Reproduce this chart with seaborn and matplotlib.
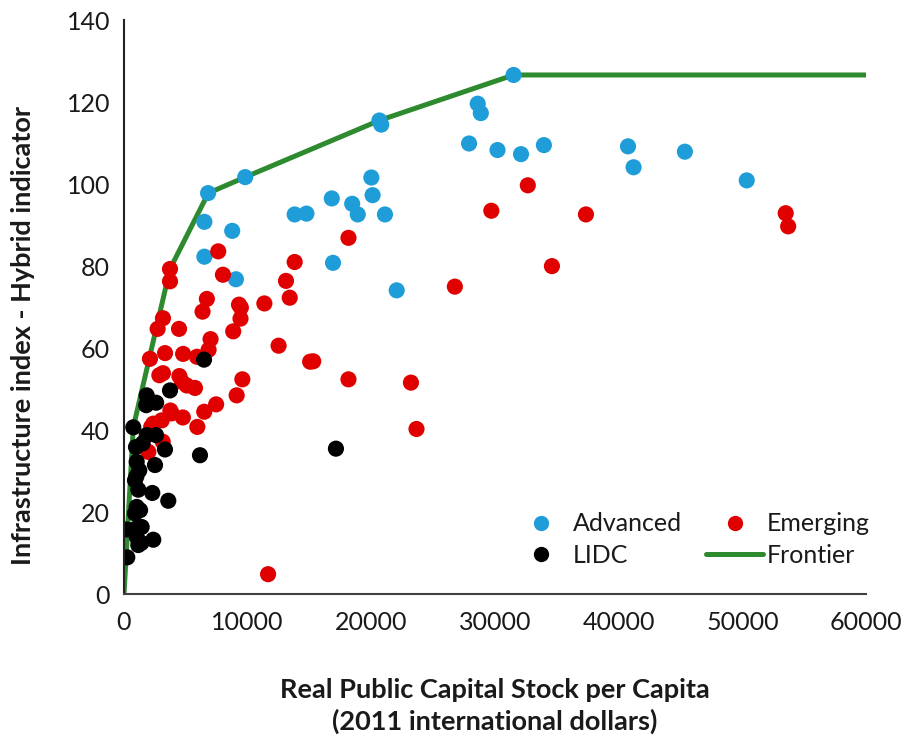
import matplotlib
matplotlib.use("Agg")
import matplotlib.pyplot as plt
from matplotlib.lines import Line2D
import pandas as pd
import seaborn as sns

# Real public capital stock per capita (2011 intl $) and hybrid infrastructure index
adv_x = [31500, 28600, 28850, 20650, 20800, 27900, 30200, 32100, 33950, 40750,
         41200, 45350, 50350, 9800, 6800, 6500, 6500, 8750, 9050, 16800,
         16900, 13800, 14750, 18450, 18900, 20000, 20100, 21100, 22050]
adv_y = [126.6, 119.6, 117.3, 115.5, 114.5, 109.9, 108.3, 107.3, 109.5, 109.2,
         104.1, 107.9, 100.9, 101.7, 97.8, 90.8, 82.3, 88.6, 76.8, 96.5,
         80.8, 92.6, 92.8, 95.2, 92.6, 101.6, 97.3, 92.6, 74.1]

em_x = [32650, 29700, 37350, 53500, 53700, 34600, 26750, 18150, 13800, 13100,
        13400, 11350, 12500, 15050, 15300, 18150, 23200, 23650, 11650,
        7620, 8000, 3720, 3720, 6700, 6350, 9300, 9450, 9420, 8830, 7000,
        6840, 5900, 4450, 2720, 3150, 2100, 3320, 4780,
        2860, 3150, 4480, 4680, 5080, 5740, 9570, 9110, 7450, 6490, 3750,
        3860, 4760, 3050, 2370, 2200, 5930, 3130, 1970]
em_y = [99.7, 93.5, 92.6, 92.9, 89.7, 80.0, 75.0, 86.9, 81.0, 76.4,
        72.3, 70.9, 60.6, 56.7, 56.8, 52.4, 51.6, 40.3, 4.9,
        83.6, 77.9, 79.3, 76.3, 72.0, 68.9, 70.6, 69.9, 67.2, 64.1, 62.2,
        59.6, 57.9, 64.7, 64.7, 67.3, 57.4, 58.8, 58.6,
        53.4, 53.9, 53.2, 51.8, 50.9, 50.3, 52.4, 48.5, 46.3, 44.5, 44.8,
        44.1, 43.1, 42.4, 41.6, 40.8, 40.8, 37.2, 34.7]

lidc_x = [6470, 3720, 1836, 1800, 2600, 752, 1836, 2588, 970, 1512,
          3315, 6145, 17136, 1027, 2507, 1237, 889, 1000, 1156, 2288,
          3582, 1027, 889, 1300, 218, 1431, 950, 1027, 2369, 1156,
          1400, 267]
lidc_y = [57.2, 49.7, 48.5, 46.1, 46.7, 40.7, 38.8, 38.8, 35.9, 36.8,
          35.3, 33.9, 35.5, 32.3, 31.5, 30.2, 27.8, 28.7, 25.5, 24.7,
          22.8, 21.3, 19.7, 20.5, 15.8, 16.4, 16.0, 14.0, 13.3, 12.0,
          12.5, 9.0]

frontier_x = [0, 752, 3720, 6817, 9805, 20638, 31500, 60000]
frontier_y = [0, 40.7, 79.3, 97.8, 101.7, 115.5, 126.6, 126.6]

groups = ["Advanced", "Emerging", "LIDC"]
palette = {"Advanced": "#1E9DD8", "Emerging": "#E00000", "LIDC": "#000000"}
frontier_color = "#2E8A2E"

points = pd.concat([
    pd.DataFrame({"capital": adv_x, "index": adv_y, "group": "Advanced"}),
    pd.DataFrame({"capital": em_x, "index": em_y, "group": "Emerging"}),
    pd.DataFrame({"capital": lidc_x, "index": lidc_y, "group": "LIDC"}),
], ignore_index=True)
frontier = pd.DataFrame({"capital": frontier_x, "index": frontier_y})

sns.set_theme(style="white")
plt.rcParams["font.family"] = ["Lato", "DejaVu Sans"]
text_color = "#1a1a1a"

fig = plt.figure(figsize=(9.05, 7.41), dpi=100)
ax = fig.add_axes([0.137, 0.198, 0.820, 0.775])

sns.lineplot(data=frontier, x="capital", y="index", ax=ax, color=frontier_color,
             linewidth=3.6, sort=False, estimator=None, zorder=1)
sns.scatterplot(data=points, x="capital", y="index", hue="group", hue_order=groups,
                palette=palette, s=135, edgecolor="none", linewidth=0, ax=ax,
                legend=False, zorder=2)

ax.set_xlim(0, 60000)
ax.set_ylim(0, 140)
ax.set_xticks(range(0, 60001, 10000))
ax.set_yticks(range(0, 141, 20))
ax.margins(0)

for side in ("top", "right"):
    ax.spines[side].set_visible(False)
ax.spines["left"].set_color("#222222")
ax.spines["bottom"].set_color("#404040")
ax.spines["left"].set_linewidth(1.5)
ax.spines["bottom"].set_linewidth(1.5)
ax.tick_params(axis="both", direction="out", length=6, width=1.2, color="#555555",
               labelsize=18, labelcolor=text_color, pad=6)
ax.tick_params(axis="y", pad=4)

ax.set_xlabel("Real Public Capital Stock per Capita\n(2011 international dollars)",
              fontsize=19.5, fontweight="bold", color=text_color,
              linespacing=1.35)
ax.xaxis.set_label_coords(0.5, -0.145)
ax.set_ylabel("Infrastructure index - Hybrid indicator", fontsize=19.5,
              fontweight="bold", color=text_color)
ax.yaxis.set_label_coords(-0.12, 0.45)

handles = [
    Line2D([], [], marker="o", linestyle="none", markersize=11,
           markerfacecolor=palette["Advanced"], markeredgecolor="none"),
    Line2D([], [], marker="o", linestyle="none", markersize=11,
           markerfacecolor=palette["LIDC"], markeredgecolor="none"),
    Line2D([], [], marker="o", linestyle="none", markersize=11,
           markerfacecolor=palette["Emerging"], markeredgecolor="none"),
    Line2D([], [], color=frontier_color, linewidth=3.6),
]
labels = ["Advanced", "LIDC", "Emerging", "Frontier"]
leg = ax.legend(handles, labels, ncol=2, frameon=False, fontsize=18,
                loc="upper left", bbox_to_anchor=(0.51, 0.16),
                handlelength=2.3, handletextpad=0.12, columnspacing=0.95,
                labelspacing=0.35, borderaxespad=0)
for t in leg.get_texts():
    t.set_color(text_color)

fig.savefig("out.png", dpi=100)
